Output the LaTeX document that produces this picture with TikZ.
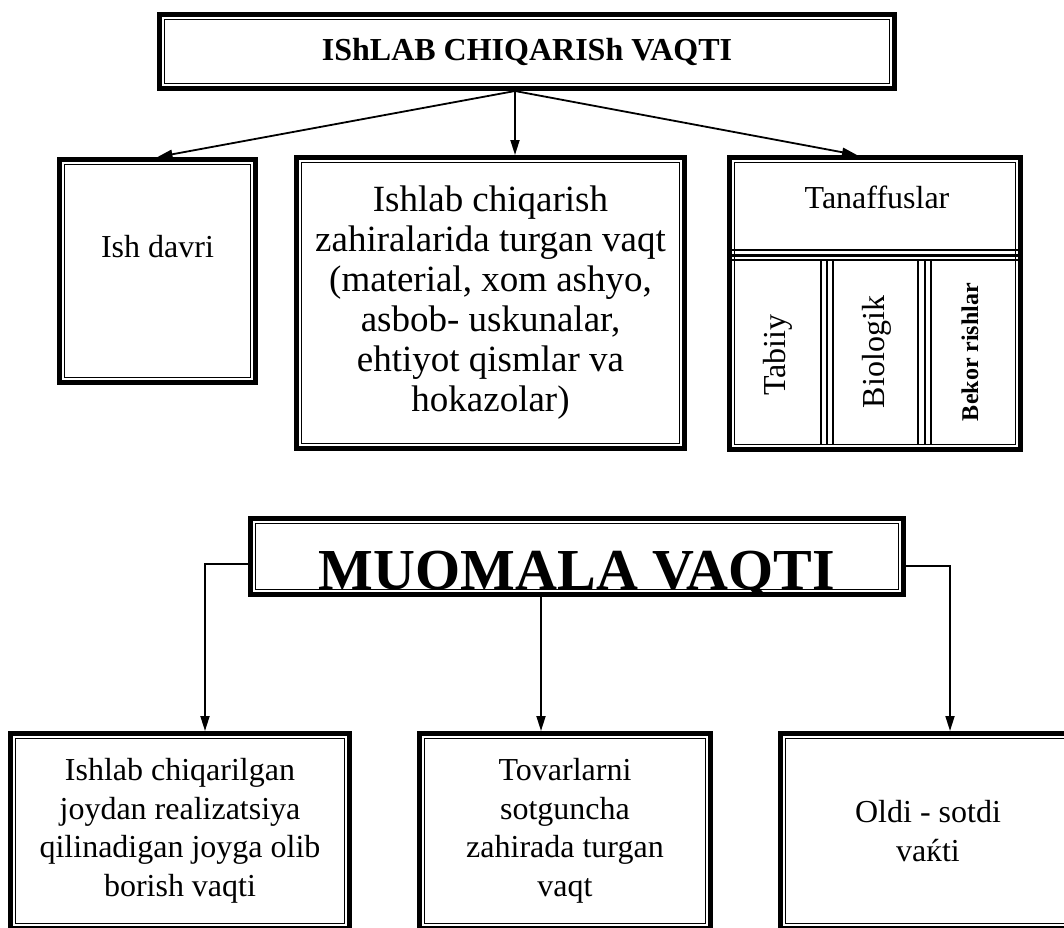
\documentclass[tikz,border=0pt]{standalone}
\usepackage{fontspec}
\setmainfont{Liberation Serif}
\usetikzlibrary{arrows.meta,positioning}

\tikzset{
  frame/.style={draw, line width=5pt, inner sep=0pt, align=center,
    path picture={\draw[line width=1.5pt]
      ([shift={(5pt,5pt)}]path picture bounding box.south west) rectangle
      ([shift={(-5pt,-5pt)}]path picture bounding box.north east);}},
  txt/.style={font=\fontsize{32}{38.5}\selectfont, align=center},
  arr/.style={line width=1.8pt, -{Triangle[length=15pt,width=9pt]}},
}

\begin{document}
\begin{tikzpicture}[x=1pt,y=-1pt]
\useasboundingbox (0,0) rectangle (1064,927);
% upper half
\node[frame, minimum width=735pt, minimum height=74pt,
  font=\bfseries\fontsize{32}{38}\selectfont] (top) at (527,51.5) {IShLAB CHIQARISh VAQTI};
\node[frame, minimum width=196pt, minimum height=223pt] (ish) at (157.5,271) {};
\node[txt] (ishtxt) at (157.5,247) {Ish davri};
\node[frame, txt, minimum width=388pt, minimum height=291pt,
  font=\fontsize{37}{40}\selectfont] (mid) at (490.5,303)
  {Ishlab chiqarish\\zahiralarida turgan vaqt\\(material, xom ashyo,\\asbob- uskunalar,\\ehtiyot qismlar va\\hokazolar)};
\node[frame, minimum width=291pt, minimum height=292pt] (tan) at (875,303.5) {};
\node[txt] (tanhead) at (877,197) {Tanaffuslar};
% dividers inside Tanaffuslar
\draw[line width=1.5pt] (729.5,250) -- (1020.5,250) (729.5,260) -- (1020.5,260);
\draw[line width=3pt] (729.5,255) -- (1020.5,255);
\foreach \xx in {821,827,833,918,924.5,931}
  \draw[line width=2pt] (\xx,260) -- (\xx,444.5);
\node[txt, rotate=90] (tabiiy) at (778,355) {Tabiiy};
\node[txt, rotate=90] (bio) at (877,352) {Biologik};
\node[font=\bfseries\fontsize{24}{28}\selectfont, rotate=90] (bekor) at (970,352) {Bekor rishlar};
\coordinate (fork) at ([xshift=-12pt]top.south);
\draw[arr] (fork) -- (ish.north);
\draw[arr] (fork) -- (fork |- mid.north);
\draw[arr] (fork) -- ([xshift=-18pt]tan.north);
% lower half
\node[frame, minimum width=653pt, minimum height=76pt] (muo) at (577,556.5) {};
\begin{scope}
\clip ([shift={(5pt,5.75pt)}]muo.south west) rectangle ([shift={(-5pt,-5pt)}]muo.north east);
\node[font=\bfseries\fontsize{58}{66}\selectfont, anchor=base] (muotxt) at (577,589) {MUOMALA VAQTI};
\end{scope}
\node[frame, txt, minimum width=339pt, minimum height=195pt] (b1) at (180,831)
  {Ishlab chiqarilgan\\joydan realizatsiya\\qilinadigan joyga olib\\borish vaqti};
\node[frame, txt, minimum width=291pt, minimum height=195pt] (b2) at (565,831)
  {Tovarlarni\\sotguncha\\zahirada turgan\\vaqt};
\node[frame, txt, minimum width=295pt, minimum height=195pt] (b3) at (928,831)
  {Oldi - sotdi\\vaќti};
\draw[arr] ([yshift=-7.5pt]muo.west) -| ([xshift=25pt]b1.north);
\draw[arr] ([xshift=-36pt]muo.south) -- ([xshift=-24pt]b2.north);
\draw[arr] ([yshift=-9.5pt]muo.east) -| ([xshift=22pt]b3.north);
\end{tikzpicture}
\end{document}
